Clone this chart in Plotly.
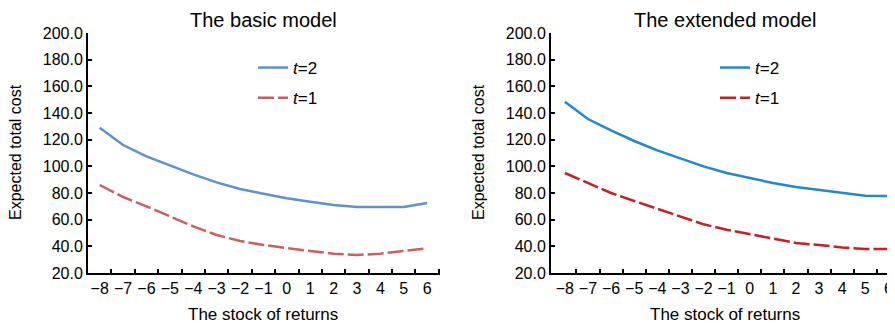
import plotly.graph_objects as go

x_vals = [-8, -7, -6, -5, -4, -3, -2, -1, 0, 1, 2, 3, 4, 5, 6]
x_labels = ["\u22128", "\u22127", "\u22126", "\u22125", "\u22124", "\u22123", "\u22122", "\u22121",
            "0", "1", "2", "3", "4", "5", "6"]

basic_t2 = [129, 116, 107.5, 100.5, 94, 88, 83, 79.5, 76, 73.5, 71, 69.5, 69.5, 69.5, 72.5]
basic_t1 = [86, 77, 70, 62.5, 55, 48.5, 44, 41, 38.5, 36.5, 34.5, 33.5, 34.5, 36.5, 38.5]
ext_t2 = [148.5, 135.5, 127, 119, 112, 106, 100, 95, 91, 87.5, 84.5, 82.5, 80, 78, 77.8]
ext_t1 = [95, 87.5, 80, 74, 68, 62, 56.5, 52.5, 49, 45.5, 42.5, 41, 39.2, 38, 38]

y_ticks = [20, 40, 60, 80, 100, 120, 140, 160, 180, 200]

FONT = "Liberation Sans, Arial, Helvetica, sans-serif"
OFF = 8  # default page body margin
W, H = 895 - OFF, 324 - OFF

def px(x):
    return min(max((x - OFF) / W, 0.0), 1.0)

def py(y):
    return min(max(1 - (y - OFF) / H, 0.0), 1.0)

fig = go.Figure()

dash_pat = "16px,4px"

fig.add_trace(go.Scatter(x=x_vals, y=basic_t2, mode="lines", name="<i>t</i>=2",
                         line=dict(color="#5f92cc", width=2.5), xaxis="x", yaxis="y",
                         legend="legend", legendgroup="a"))
fig.add_trace(go.Scatter(x=x_vals, y=basic_t1, mode="lines", name="<i>t</i>=1",
                         line=dict(color="#cc5f5f", width=2.5, dash=dash_pat), xaxis="x", yaxis="y",
                         legend="legend", legendgroup="b"))
fig.add_trace(go.Scatter(x=x_vals, y=ext_t2, mode="lines", name="<i>t</i>=2",
                         line=dict(color="#1f88d2", width=2.5), xaxis="x2", yaxis="y2",
                         legend="legend2", legendgroup="c"))
fig.add_trace(go.Scatter(x=x_vals, y=ext_t1, mode="lines", name="<i>t</i>=1",
                         line=dict(color="#c81e24", width=2.5, dash=dash_pat), xaxis="x2", yaxis="y2",
                         legend="legend2", legendgroup="d"))

minor_left = [v + 0.5 for v in x_vals]
minor_right = [v + 0.5 for v in x_vals[:-1]]

def xaxis(domain, rng, anchor, minor_vals):
    return dict(domain=domain, range=rng, anchor=anchor, tickmode="array", automargin=False,
                tickvals=x_vals, ticktext=x_labels, ticks="", showgrid=False, zeroline=False,
                showline=True, linecolor="black", linewidth=2,
                tickfont=dict(family=FONT, size=16, color="black"),
                minor=dict(tickmode="array", tickvals=minor_vals, ticks="inside",
                           ticklen=4, tickwidth=2, tickcolor="black", showgrid=False))

def yaxis(domain, anchor):
    return dict(domain=domain, range=[20, 200], anchor=anchor, tickmode="array", automargin=False,
                tickvals=y_ticks, tickformat=".1f", ticks="inside", ticklen=4, tickwidth=2,
                tickcolor="black", showgrid=False, zeroline=False, showline=True,
                linecolor="black", linewidth=2,
                tickfont=dict(family=FONT, size=16, color="black"))

ydom = [py(273), py(33)]

fig.update_layout(
    width=W, height=H,
    margin=dict(l=0, r=0, t=0, b=0),
    paper_bgcolor="white", plot_bgcolor="white",
    font=dict(family=FONT, color="black"),
    xaxis=xaxis([px(88), px(440)], [-8.5, 6.55], "y", minor_left),
    yaxis=yaxis(ydom, "x"),
    xaxis2=xaxis([px(551), px(893)], [-8.6, 6.2], "y2", minor_right),
    yaxis2=yaxis(ydom, "x2"),
    legend=dict(x=px(253), y=py(50), xanchor="left", yanchor="top",
                bgcolor="rgba(0,0,0,0)", tracegroupgap=5,
                font=dict(family=FONT, size=17, color="black")),
    legend2=dict(x=px(715), y=py(50), xanchor="left", yanchor="top",
                 bgcolor="rgba(0,0,0,0)", tracegroupgap=5,
                 font=dict(family=FONT, size=17, color="black")),
    showlegend=True,
)

annotations = [
    dict(text="The basic model", x=px(263), y=py(20), size=20),
    dict(text="The extended model", x=px(725), y=py(20), size=20),
    dict(text="The stock of returns", x=px(263), y=py(314), size=17),
    dict(text="The stock of returns", x=px(725), y=py(314), size=17),
]
for a in annotations:
    fig.add_annotation(text=a["text"], x=a["x"], y=a["y"], xref="paper", yref="paper",
                       xanchor="center", yanchor="middle", showarrow=False,
                       font=dict(family=FONT, size=a["size"], color="black"))

for xc in [15, 478]:
    fig.add_annotation(text="Expected total cost", x=px(xc), y=py(152), xref="paper", yref="paper",
                       xanchor="center", yanchor="middle", showarrow=False, textangle=-90,
                       font=dict(family=FONT, size=16, color="black"))

fig.write_html("out.html")
